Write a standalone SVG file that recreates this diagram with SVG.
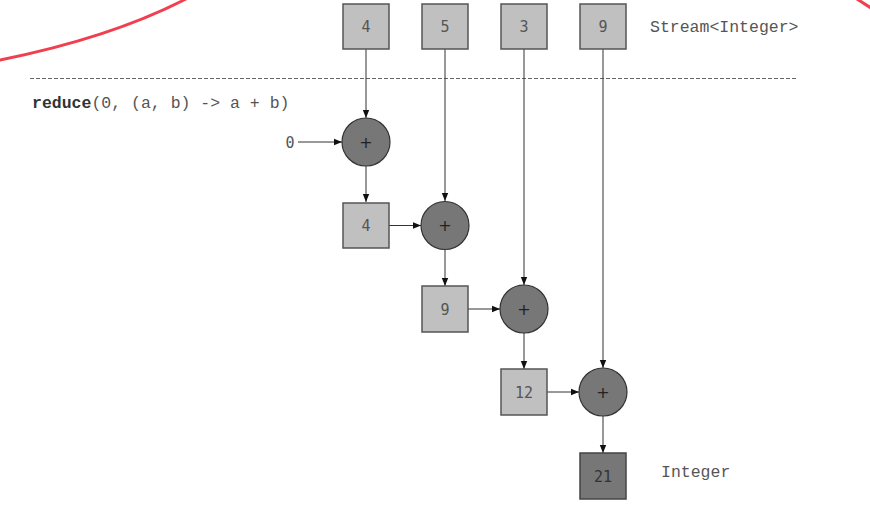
<svg xmlns="http://www.w3.org/2000/svg" width="870" height="512" viewBox="0 0 870 512">
  <style>
    .box { fill: #c0c0c0; stroke: #555; stroke-width: 1.5; }
    .res { fill: #777; stroke: #444; stroke-width: 1.5; }
    .op { fill: #777; stroke: #333; stroke-width: 1.2; }
    .num { font-family: "DejaVu Sans Mono", "Liberation Mono", monospace; font-size: 15px; fill: #555; text-anchor: middle; }
    .plus { font-family: "DejaVu Sans", sans-serif; font-size: 16px; fill: #222; text-anchor: middle; }
    .code { font-family: "Liberation Mono", "Courier New", monospace; font-size: 16.5px; fill: #555; }
    .edge { stroke: #333; stroke-width: 1; fill: none; marker-end: url(#arr); }
    .stroke { fill: none; stroke: #f0404f; stroke-width: 3; stroke-linecap: round; }
  </style>
  <defs>
    <marker id="arr" viewBox="0 0 10 10" refX="10" refY="5" markerWidth="8" markerHeight="8" markerUnits="userSpaceOnUse" orient="auto">
      <path d="M0,1 L10,5 L0,9 z" fill="#111"/>
    </marker>
  </defs>
  <rect width="870" height="512" fill="#fff"/>

  <!-- hand-drawn red strokes -->
  <path class="stroke" d="M0,60 Q110,38 186,-1"/>
  <path class="stroke" d="M857,-1 L871,8"/>

  <!-- separator and labels -->
  <line x1="30" y1="78.5" x2="798" y2="78.5" stroke="#666" stroke-width="1" stroke-dasharray="4,2"/>
  <text class="code" x="32" y="108"><tspan font-weight="bold" style="fill:#333">reduce</tspan>(0, (a, b) -&gt; a + b)</text>
  <text class="code" x="650" y="32">Stream&lt;Integer&gt;</text>
  <text class="code" x="661" y="477">Integer</text>

  <!-- connectors -->
  <g id="connectors">
    <line class="edge" x1="366" y1="49" x2="366" y2="118"/>
    <line class="edge" x1="445" y1="49" x2="445" y2="201"/>
    <line class="edge" x1="524" y1="49" x2="524" y2="285"/>
    <line class="edge" x1="603" y1="49" x2="603" y2="368"/>
    <line class="edge" x1="298" y1="142" x2="342" y2="142"/>
    <line class="edge" x1="366" y1="166" x2="366" y2="202"/>
    <line class="edge" x1="389" y1="225.5" x2="421" y2="225.5"/>
    <line class="edge" x1="445" y1="250" x2="445" y2="286"/>
    <line class="edge" x1="468" y1="309" x2="500" y2="309"/>
    <line class="edge" x1="524" y1="333" x2="524" y2="369"/>
    <line class="edge" x1="547" y1="392" x2="579" y2="392"/>
    <line class="edge" x1="603" y1="416" x2="603" y2="453"/>
  </g>

  <!-- stream elements -->
  <g id="s4"><rect class="box" x="343" y="4" width="46" height="45"/><text class="num" x="366" y="32">4</text></g>
  <g id="s5"><rect class="box" x="422" y="4" width="46" height="45"/><text class="num" x="445" y="32">5</text></g>
  <g id="s3"><rect class="box" x="501" y="4" width="46" height="45"/><text class="num" x="524" y="32">3</text></g>
  <g id="s9"><rect class="box" x="580" y="4" width="46" height="45"/><text class="num" x="603" y="32">9</text></g>

  <!-- initial value -->
  <g id="init"><text class="num" x="290" y="148">0</text></g>

  <!-- accumulation steps -->
  <g id="add1"><circle class="op" cx="366" cy="142" r="24"/><text class="plus" x="366" y="147.5">+</text></g>
  <g id="acc4"><rect class="box" x="343" y="203" width="46" height="45"/><text class="num" x="366" y="231">4</text></g>
  <g id="add2"><circle class="op" cx="445" cy="225.5" r="24"/><text class="plus" x="445" y="231">+</text></g>
  <g id="acc9"><rect class="box" x="422" y="286" width="46" height="46"/><text class="num" x="445" y="314.5">9</text></g>
  <g id="add3"><circle class="op" cx="524" cy="309" r="24"/><text class="plus" x="524" y="314.5">+</text></g>
  <g id="acc12"><rect class="box" x="501" y="369" width="46" height="46"/><text class="num" x="524" y="397.5">12</text></g>
  <g id="add4"><circle class="op" cx="603" cy="392" r="24"/><text class="plus" x="603" y="397.5">+</text></g>
  <g id="result"><rect class="res" x="580" y="453" width="46" height="46"/><text class="num" x="603" y="481.5" style="fill:#333">21</text></g>
</svg>
